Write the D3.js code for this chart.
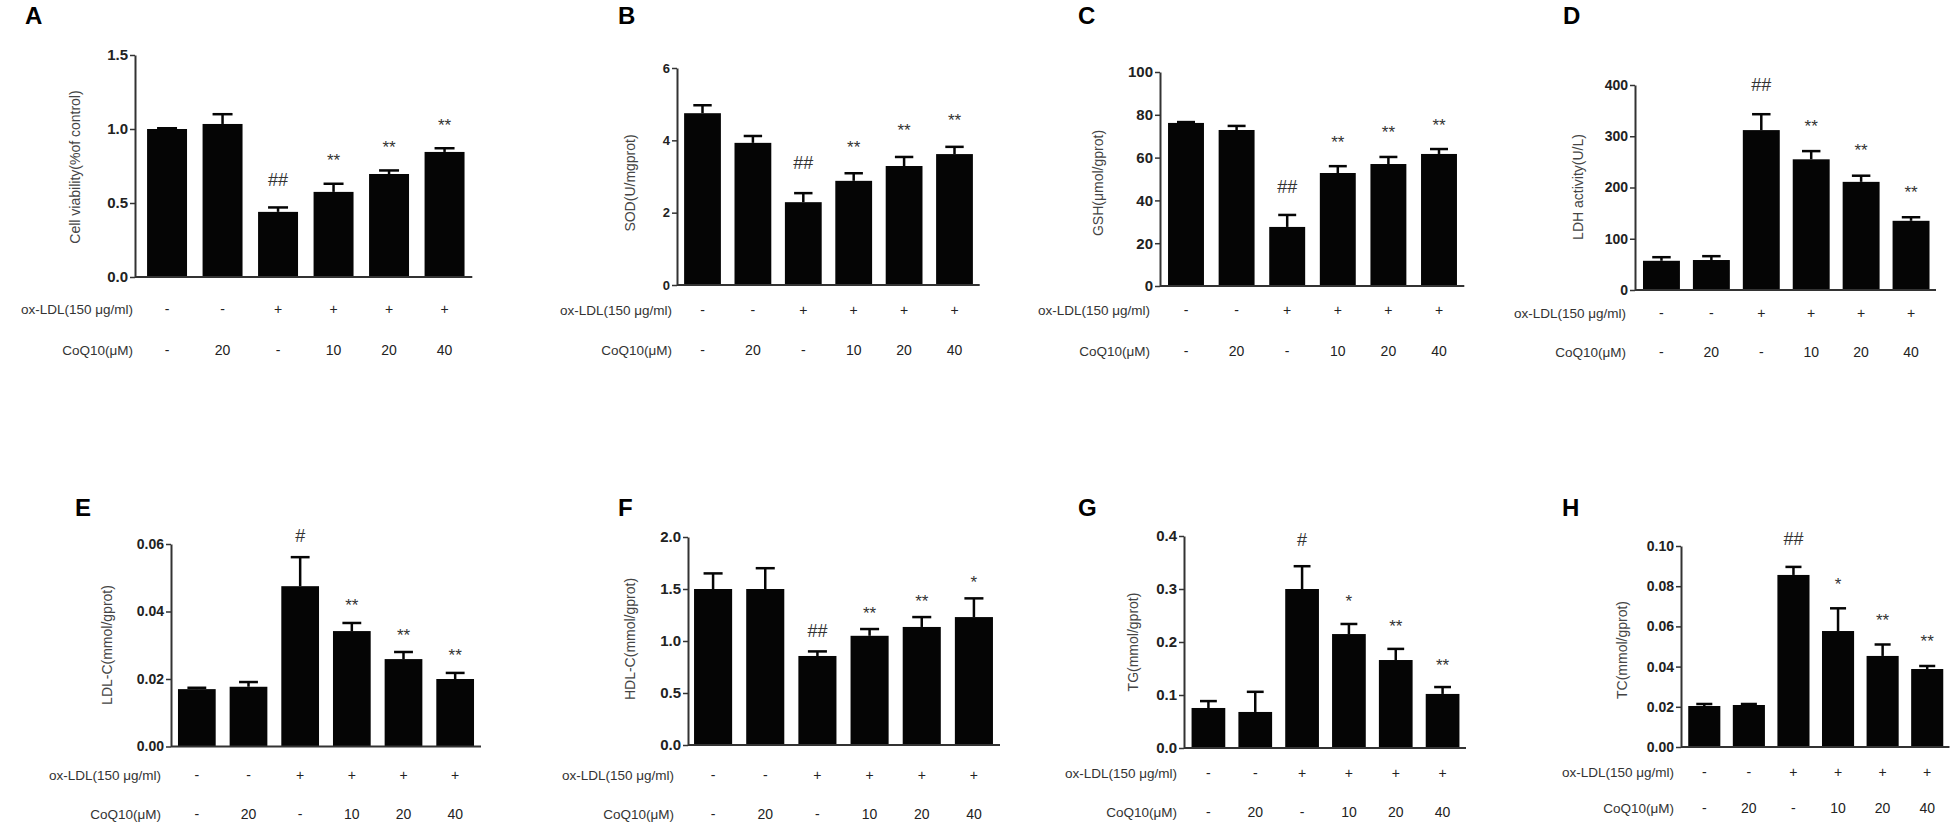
<!DOCTYPE html>
<html>
<head>
<meta charset="utf-8">
<script src="https://cdn.jsdelivr.net/npm/d3@7"></script>
<style>
  body { margin: 0; background: #fff; }
  svg { font-family: "Liberation Sans", Arial, sans-serif; }
</style>
</head>
<body>
<svg id="chart" width="1953" height="824"></svg>
<script>
// treatment rows under each panel
const oxLdlRow = ["-", "-", "+", "+", "+", "+"];
const coq10Row = ["-", "20", "-", "10", "20", "40"];
const groups = ["g1", "g2", "g3", "g4", "g5", "g6"];

// A: cell viability
const viability = [1.00, 1.034, 0.44, 0.575, 0.696, 0.845];
const viabilityErr = [0.005, 0.066, 0.03, 0.055, 0.024, 0.025];
const viabilityTicks = [0, 0.5, 1.0, 1.5];
// B: SOD
const sod = [4.75, 3.93, 2.29, 2.88, 3.29, 3.62];
const sodErr = [0.22, 0.19, 0.25, 0.21, 0.25, 0.20];
const sodTicks = [0, 2, 4, 6];
// C: GSH
const gsh = [76.2, 72.9, 27.6, 52.8, 57.0, 61.7];
const gshErr = [0.4, 1.9, 5.6, 3.2, 3.3, 2.3];
const gshTicks = [0, 20, 40, 60, 80, 100];
// D: LDH
const ldh = [57, 58.5, 312, 255, 211, 135];
const ldhErr = [7, 7.5, 31, 16, 12, 7];
const ldhTicks = [0, 100, 200, 300, 400];
// E: LDL-C
const ldlc = [0.0170, 0.0177, 0.0475, 0.0342, 0.0259, 0.0200];
const ldlcErr = [0.0004, 0.0014, 0.0086, 0.0024, 0.0021, 0.0018];
const ldlcTicks = [0, 0.02, 0.04, 0.06];
// F: HDL-C
const hdlc = [1.50, 1.50, 0.856, 1.05, 1.135, 1.23];
const hdlcErr = [0.15, 0.20, 0.044, 0.065, 0.095, 0.18];
const hdlcTicks = [0, 0.5, 1.0, 1.5, 2.0];
// G: TG
const tg = [0.0755, 0.068, 0.300, 0.215, 0.166, 0.102];
const tgErr = [0.013, 0.038, 0.043, 0.019, 0.021, 0.013];
const tgTicks = [0, 0.1, 0.2, 0.3, 0.4];
// H: TC
const tc = [0.0204, 0.0209, 0.0856, 0.0577, 0.0453, 0.0388];
const tcErr = [0.001, 0.0005, 0.004, 0.0113, 0.0057, 0.0015];
const tcTicks = [0, 0.02, 0.04, 0.06, 0.08, 0.10];

const sigTop = ["", "", "##", "**", "**", "**"];
const sigE = ["", "", "#", "**", "**", "**"];
const sigF = ["", "", "##", "**", "**", "*"];
const sigG = ["", "", "#", "*", "**", "**"];
const sigH = ["", "", "##", "*", "**", "**"];

// panel layout (pixels)
const panels = [
  {letter: "A", lx: 25, ly: 24, label: "Cell viability(%of control)", values: viability, err: viabilityErr, ticks: viabilityTicks, fmt: ".1f", sig: sigTop,
   axisX: 135, xr: [139.3, 472.3], pad: 0.28, yTop: 55, yBase: 277, labX: 75, labY: 167, rowR: 133, row1: 309, row2: 350, tickFs: 15, off: 27},
  {letter: "B", lx: 618, ly: 24, label: "SOD(U/mgprot)", values: sod, err: sodErr, ticks: sodTicks, fmt: "d", sig: sigTop,
   axisX: 677, xr: [677.3, 979.7], pad: 0.27, yTop: 68, yBase: 285, labX: 630, labY: 183, rowR: 672, row1: 310, row2: 350, tickFs: 13, off: 30},
  {letter: "C", lx: 1078, ly: 24, label: "GSH(μmol/gprot)", values: gsh, err: gshErr, ticks: gshTicks, fmt: "d", sig: sigTop,
   axisX: 1160, xr: [1160.7, 1464.3], pad: 0.29, yTop: 72, yBase: 286, labX: 1098, labY: 183, rowR: 1150, row1: 310, row2: 351, tickFs: 15, off: 28},
  {letter: "D", lx: 1563, ly: 24, label: "LDH activity(U/L)", values: ldh, err: ldhErr, ticks: ldhTicks, fmt: "d", sig: sigTop,
   axisX: 1635, xr: [1636.5, 1936], pad: 0.26, yTop: 85, yBase: 290, labX: 1578, labY: 187, rowR: 1626, row1: 313, row2: 352, tickFs: 14, off: 29},
  {letter: "E", lx: 75, ly: 516, label: "LDL-C(mmol/gprot)", values: ldlc, err: ldlcErr, ticks: ldlcTicks, fmt: ".2f", sig: sigE,
   axisX: 171, xr: [171, 481], pad: 0.27, yTop: 544, yBase: 746.5, labX: 107, labY: 645, rowR: 161, row1: 775, row2: 814, tickFs: 14, off: 21},
  {letter: "F", lx: 618, ly: 516, label: "HDL-C(mmol/gprot)", values: hdlc, err: hdlcErr, ticks: hdlcTicks, fmt: ".1f", sig: sigF,
   axisX: 688, xr: [687, 1000], pad: 0.27, yTop: 537, yBase: 745, labX: 630, labY: 639, rowR: 674, row1: 775, row2: 814, tickFs: 15, off: 20},
  {letter: "G", lx: 1078, ly: 516, label: "TG(mmol/gprot)", values: tg, err: tgErr, ticks: tgTicks, fmt: ".1f", sig: sigG,
   axisX: 1184, xr: [1185, 1466], pad: 0.28, yTop: 536, yBase: 748, labX: 1133, labY: 642, rowR: 1177, row1: 773, row2: 812, tickFs: 15, off: 26},
  {letter: "H", lx: 1562, ly: 516, label: "TC(mmol/gprot)", values: tc, err: tcErr, ticks: tcTicks, fmt: ".2f", sig: sigH,
   axisX: 1681, xr: [1682, 1949.5], pad: 0.28, yTop: 546, yBase: 747, labX: 1622, labY: 650, rowR: 1674, row1: 772, row2: 808, tickFs: 14, off: 28}
];

const svg = d3.select("#chart");

panels.forEach(p => {
  const g = svg.append("g");

  const x = d3.scaleBand()
    .domain(groups)
    .range(p.xr)
    .paddingInner(p.pad)
    .paddingOuter(p.pad / 2);

  const yMax = p.ticks[p.ticks.length - 1];
  const y = d3.scaleLinear()
    .domain([0, yMax])
    .range([p.yBase, p.yTop]);

  // panel letter
  g.append("text")
    .attr("x", p.lx)
    .attr("y", p.ly)
    .style("font-size", "24px")
    .style("font-weight", "bold")
    .text(p.letter);

  // bars
  const rows = groups.map((k, i) => ({key: k, v: p.values[i], e: p.err[i], s: p.sig[i]}));
  g.selectAll("rect.bar")
    .data(rows)
    .enter()
    .append("rect")
      .attr("class", "bar")
      .attr("x", d => x(d.key))
      .attr("y", d => y(d.v))
      .attr("width", x.bandwidth())
      .attr("height", d => y(0) - y(d.v))
      .attr("fill", "#050505");

  // upper error bars + significance marks
  const cap = x.bandwidth() * 0.5;
  rows.forEach(d => {
    const cx = x(d.key) + x.bandwidth() / 2;
    g.append("line")
      .attr("x1", cx).attr("x2", cx)
      .attr("y1", y(d.v)).attr("y2", y(d.v + d.e))
      .attr("stroke", "#050505").attr("stroke-width", 2.5);
    g.append("line")
      .attr("x1", cx - cap / 2).attr("x2", cx + cap / 2)
      .attr("y1", y(d.v + d.e)).attr("y2", y(d.v + d.e))
      .attr("stroke", "#050505").attr("stroke-width", 2.5);
    if (d.s) {
      const centre = y(d.v + d.e) - p.off;
      const star = d.s.includes("*");
      g.append("text")
        .attr("x", cx)
        .attr("y", centre + (star ? 9.5 : 6))
        .attr("text-anchor", "middle")
        .style("font-size", star ? "17px" : "18px")
        .style("fill", "#333")
        .text(d.s);
    }
  });

  // y axis
  const yAxis = g.append("g")
    .attr("transform", `translate(${p.axisX},0)`)
    .call(d3.axisLeft(y)
      .tickValues(p.ticks)
      .tickSize(5)
      .tickSizeOuter(0)
      .tickPadding(2)
      .tickFormat(d3.format(p.fmt)));
  yAxis.select(".domain").attr("stroke", "#333").attr("stroke-width", 2);
  yAxis.selectAll(".tick line").attr("stroke", "#333").attr("stroke-width", 1.5);
  yAxis.selectAll(".tick text")
    .attr("fill", "#222")
    .style("font-size", p.tickFs + "px")
    .style("font-weight", "bold")
    .style("font-family", "'Liberation Sans', Arial, sans-serif");

  // x axis baseline
  g.append("line")
    .attr("x1", p.axisX).attr("x2", x.range()[1])
    .attr("y1", y(0)).attr("y2", y(0))
    .attr("stroke", "#333").attr("stroke-width", 2);

  // y axis title
  g.append("text")
    .attr("transform", `translate(${p.labX},${p.labY}) rotate(-90)`)
    .attr("text-anchor", "middle")
    .attr("dominant-baseline", "central")
    .style("font-size", "14px")
    .style("fill", "#444")
    .text(p.label);

  // treatment rows
  const rowLabels = [["ox-LDL(150 μg/ml)", oxLdlRow, p.row1], ["CoQ10(μM)", coq10Row, p.row2]];
  rowLabels.forEach(([name, vals, ry]) => {
    g.append("text")
      .attr("x", p.rowR)
      .attr("y", ry)
      .attr("text-anchor", "end")
      .attr("dominant-baseline", "central")
      .style("font-size", "13.5px")
      .style("fill", "#333")
      .text(name);
    g.selectAll(null)
      .data(vals)
      .enter()
      .append("text")
        .attr("x", (d, i) => x(groups[i]) + x.bandwidth() / 2)
        .attr("y", ry)
        .attr("text-anchor", "middle")
        .attr("dominant-baseline", "central")
        .style("font-size", "14px")
        .style("fill", "#222")
        .text(d => d);
  });
});
</script>
</body>
</html>
